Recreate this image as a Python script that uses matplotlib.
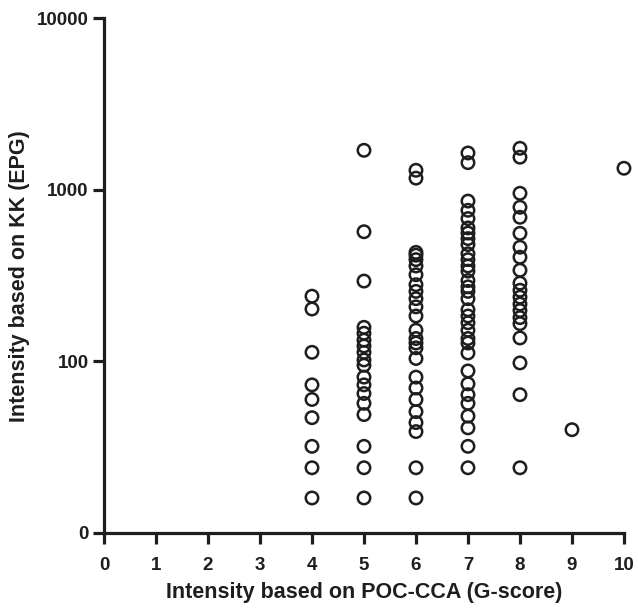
import numpy as np
import matplotlib.pyplot as plt
from matplotlib.ticker import FixedLocator, FixedFormatter, NullLocator

# ---------------------------------------------------------------------------
# Data: KK egg counts (EPG) grouped by POC-CCA G-score
# ---------------------------------------------------------------------------
g4 = [240, 202, 113, 73, 60, 47, 32, 24, 16]
g5 = [1700, 570, 294, 158, 146, 133, 123, 113, 102, 95, 81, 73, 65, 57, 49,
      32, 24, 16]
g6 = [1300, 1170, 432, 416, 392, 360, 320, 280, 256, 232, 208, 184, 152, 136,
      128, 120, 104, 81, 70, 60, 51, 44, 39, 24, 16]
g7 = [1640, 1440, 860, 760, 680, 600, 560, 520, 480, 424, 392, 360, 336, 296,
      272, 256, 232, 200, 184, 168, 152, 136, 128, 112, 88, 74, 64, 57, 48,
      41, 32, 24]
g8 = [1746, 1550, 955, 792, 692, 558, 463, 405, 340, 286, 260, 237, 216, 198,
      180, 166, 137, 98, 64, 24]
g9 = [40]
g10 = [1336]

groups = {4: g4, 5: g5, 6: g6, 7: g7, 8: g8, 9: g9, 10: g10}

x_ticks = list(range(0, 11))
y_ticks = [10, 100, 1000, 10000]
y_tick_labels = ["0", "100", "1000", "10000"]

plt.rcParams["font.family"] = ["Liberation Sans", "DejaVu Sans"]
plt.rcParams["font.weight"] = "bold"

INK = "#1e1e1e"

fig = plt.figure(figsize=(6.38, 6.09), dpi=100)
ax = fig.add_axes([0.163, 0.1248, 0.815, 0.8452])

xs, ys = [], []
for g, vals in groups.items():
    xs += [g] * len(vals)
    ys += vals

ax.scatter(xs, ys, s=80, facecolors="none", edgecolors=INK,
           linewidths=1.8, clip_on=False, zorder=3)

ax.set_yscale("log")
ax.set_xlim(0, 10)
ax.set_ylim(10, 10000)

ax.xaxis.set_major_locator(FixedLocator(x_ticks))
ax.yaxis.set_major_locator(FixedLocator(y_ticks))
ax.yaxis.set_major_formatter(FixedFormatter(y_tick_labels))
ax.yaxis.set_minor_locator(NullLocator())

for side in ("top", "right"):
    ax.spines[side].set_visible(False)
for side in ("left", "bottom"):
    ax.spines[side].set_linewidth(2.3)
    ax.spines[side].set_color(INK)

ax.tick_params(axis="both", which="major", length=8, width=2.3,
               color=INK, labelcolor=INK, labelsize=13.5)
ax.tick_params(axis="x", pad=9)
ax.tick_params(axis="y", pad=3)
for lab in ax.get_xticklabels() + ax.get_yticklabels():
    lab.set_fontweight("bold")

ax.set_xlabel("Intensity based on POC-CCA (G-score)", fontsize=15.5,
              fontweight="bold", color=INK, labelpad=6)
ax.set_ylabel("Intensity based on KK (EPG)", fontsize=15.5,
              fontweight="bold", color=INK, labelpad=5)

fig.savefig("out.png", dpi=100)
